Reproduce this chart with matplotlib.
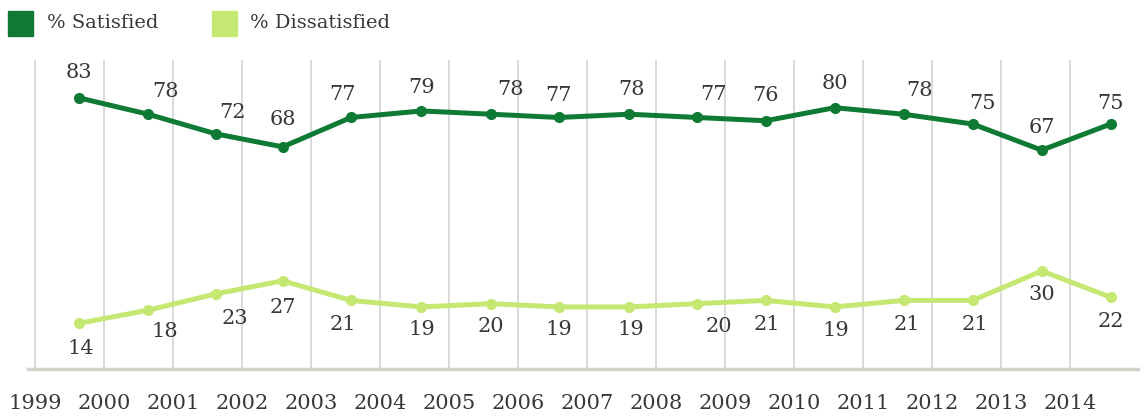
import matplotlib
matplotlib.use("Agg")
import matplotlib.pyplot as plt
from matplotlib.patches import Rectangle

# ---- data ----
survey_time = [1999.64, 2000.64, 2001.62, 2002.59, 2003.58, 2004.60, 2005.61, 2006.59,
               2007.61, 2008.60, 2009.59, 2010.59, 2011.59, 2012.59, 2013.59, 2014.59]
satisfied = [83, 78, 72, 68, 77, 79, 78, 77, 78, 77, 76, 80, 78, 75, 67, 75]
dissatisfied = [14, 18, 23, 27, 21, 19, 20, 19, 19, 20, 21, 19, 21, 21, 30, 22]
years = list(range(1999, 2015))
series_names = ["% Satisfied", "% Dissatisfied"]

# ---- layout (label offsets in pixels) ----
sat_dx = [0, 17, 17, 0, -8, 0, 19, 0, 2, 16, 0, 0, 16, 10, 0, 0]
sat_dy = [25, 23, 21, 27, 23, 23, 25, 22, 25, 23, 25, 24, 24, 21, 23, 21]
dis_dx = [2, 17, 19, 0, -8, 0, 0, 0, 2, 22, 1, 1, 3, 2, 0, 0]
dis_dy = [25, 21, 25, 27, 24, 23, 23, 23, 23, 23, 24, 24, 24, 24, 23, 24]

dark = "#0e7a34"
light = "#c4e872"
txt = "#383838"
FONT = "DejaVu Serif"

W, H = 1144, 417
fig = plt.figure(figsize=(W / 100, H / 100), dpi=100)
ax = fig.add_axes([28 / W, 1 - 369 / H, (1138 - 28) / W, (369 - 60) / H])

ax.set_xlim(1998.899, 2014.986)
ax.set_ylim(0, 94.6)

for y in years:
    ax.axvline(y, color="#d9d9d9", lw=1.4, zorder=0)

for s in ["top", "right", "left"]:
    ax.spines[s].set_visible(False)
ax.spines["bottom"].set_color("#d3d3cc")
ax.spines["bottom"].set_linewidth(2.5)

ax.set_yticks([])
ax.set_xticks(years)
ax.set_xticklabels([str(y) for y in years], fontsize=15, color=txt, family=FONT)
ax.tick_params(axis="x", length=0, pad=18)

ax.plot(survey_time, satisfied, color=dark, lw=3.6, marker="o", ms=7, zorder=3)
ax.plot(survey_time, dissatisfied, color=light, lw=3.6, marker="o", ms=7, zorder=3)

for x, v, dx, dy in zip(survey_time, satisfied, sat_dx, sat_dy):
    ax.annotate(str(v), (x, v), xytext=(dx, dy), textcoords="offset pixels",
                ha="center", va="center", fontsize=15, color=txt, family=FONT)
for x, v, dx, dy in zip(survey_time, dissatisfied, dis_dx, dis_dy):
    ax.annotate(str(v), (x, v), xytext=(dx, -dy), textcoords="offset pixels",
                ha="center", va="center", fontsize=15, color=txt, family=FONT)

# legend
for x0, col, name, tx in [(8, dark, series_names[0], 47), (212, light, series_names[1], 250)]:
    fig.patches.append(Rectangle((x0 / W, 1 - 36 / H), 25 / W, 25 / H,
                                 transform=fig.transFigure, color=col))
    fig.text(tx / W, 1 - 23 / H, name, fontsize=14, color=txt, family=FONT,
             ha="left", va="center")

fig.savefig("out.png", dpi=100)
